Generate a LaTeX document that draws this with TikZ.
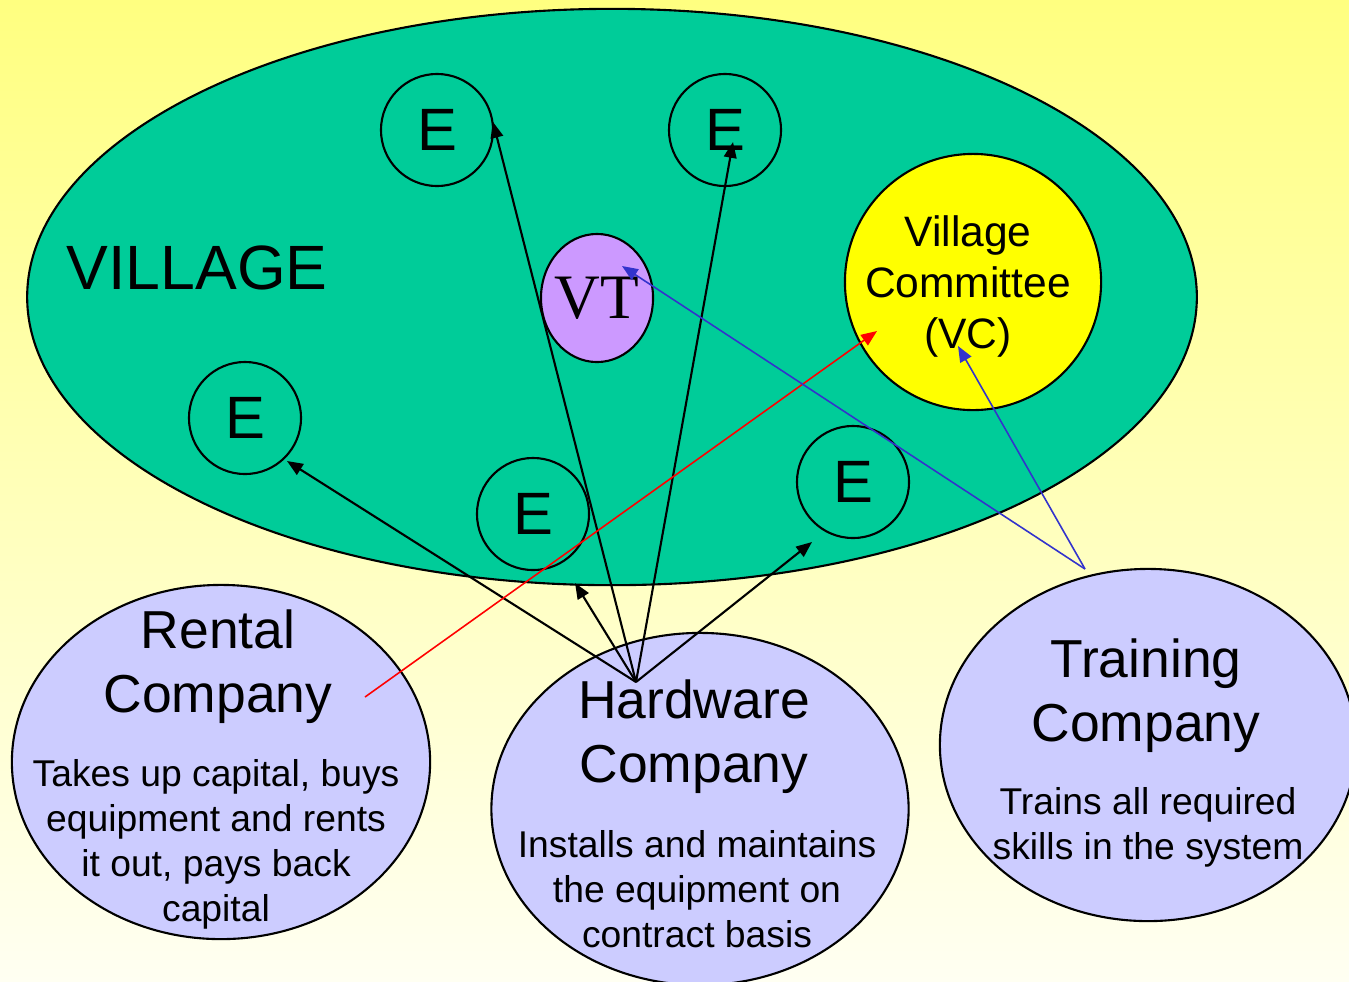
\documentclass[tikz,border=0pt]{standalone}
\usepackage{fontspec}
\setmainfont{Liberation Sans}
\newfontfamily\vtfont{Liberation Serif}
\usetikzlibrary{shapes.geometric,arrows.meta}
\definecolor{bgtop}{HTML}{FFFF80}
\definecolor{bgbot}{HTML}{FFFFF2}
\definecolor{villagegreen}{HTML}{00CC99}
\definecolor{vtpurple}{HTML}{CC99FF}
\definecolor{vcyellow}{HTML}{FFFF00}
\definecolor{companyblue}{HTML}{CCCCFF}
\definecolor{arrowblue}{HTML}{3333CC}
\definecolor{arrowred}{HTML}{FF0000}
\tikzset{
  ebox/.style={circle,draw=black,line width=0.6pt,fill=villagegreen,minimum size=1.12cm,inner sep=0pt,font=\fontsize{17}{20}\selectfont},
  company/.style={ellipse,draw=black,line width=0.6pt,fill=companyblue,inner sep=0pt},
  titletext/.style={align=center,font=\fontsize{15.2}{18.2}\selectfont,inner sep=0pt},
  desctext/.style={align=center,font=\fontsize{10.6}{12.8}\selectfont,inner sep=0pt},
  blackarrow/.style={draw=black,line width=0.6pt,-{Triangle[length=4.5pt,width=3.6pt]}},
  redarrow/.style={draw=arrowred,line width=0.45pt,-{Triangle[length=4.5pt,width=3.6pt]}},
  bluearrow/.style={draw=arrowblue,line width=0.45pt,-{Triangle[length=4.5pt,width=3.6pt]}},
}
\begin{document}
\begin{tikzpicture}[x=0.01cm,y=-0.01cm]
\useasboundingbox (0,0) rectangle (1349,981);
\clip (0,0) rectangle (1349,981);
\shade[top color=bgtop,bottom color=bgbot] (0,0) rectangle (1349,981);

% village
\node[ellipse,draw=black,line width=0.6pt,fill=villagegreen,minimum width=11.69cm,minimum height=5.76cm,inner sep=0pt] (village) at (612,297) {};
\node[font=\fontsize{17.8}{20}\selectfont,inner sep=0pt] (villagelabel) at (197,268) {VILLAGE};

% E circles
\node[ebox] (e1) at (437,130) {E};
\node[ebox] (e2) at (725,130) {E};
\node[ebox] (e3) at (245,418) {E};
\node[ebox] (e4) at (533,514) {E};
\node[ebox] (e5) at (853,482) {E};

% VT
\node[ellipse,draw=black,line width=0.6pt,fill=vtpurple,minimum width=1.12cm,minimum height=1.28cm,inner sep=0pt] (vt) at (597,298) {};
\node[font=\vtfont\fontsize{18}{21}\selectfont,inner sep=0pt] (vtlabel) at (597,298) {VT};

% VC
\node[circle,draw=black,line width=0.6pt,fill=vcyellow,minimum size=2.56cm,inner sep=0pt] (vc) at (973,282) {};
\node[align=center,font=\fontsize{12.1}{14.5}\selectfont,inner sep=0pt] (vclabel) at (968,286) {Village\\Committee\\(VC)};

% companies
\node[company,minimum width=4.18cm,minimum height=3.54cm] (rental) at (221,762) {};
\node[company,minimum width=4.17cm,minimum height=3.52cm] (hardware) at (700,809) {};
\node[company,minimum width=4.16cm,minimum height=3.52cm] (training) at (1148,745) {};

\node[titletext] (rentaltitle) at (218,667) {Rental\\Company};
\node[desctext] (rentaldesc) at (216,844) {Takes up capital, buys\\equipment and rents\\it out, pays back\\capital};
\node[titletext] (hwtitle) at (694,737) {Hardware\\Company};
\node[desctext] (hwdesc) at (697,889) {Installs and maintains\\the equipment on\\contract basis};
\node[titletext] (trtitle) at (1146,696) {Training\\Company};
\node[desctext] (trdesc) at (1148,827) {Trains all required\\skills in the system};

% arrow end points
\coordinate (hwsrc) at (636,682);
\coordinate (tipe1) at (493,122);
\coordinate (tipe2) at (733,142);
\coordinate (tipe3) at (287,461);
\coordinate (tipe4) at (575,583);
\coordinate (tipe5) at (812,542);
\coordinate (rentalsrc) at (365,697);
\coordinate (tipvcred) at (877,331);
\coordinate (trsrc) at (1085,569);
\coordinate (tipvt) at (622,266);
\coordinate (tipvcblue) at (958,346);

\draw[blackarrow] (hwsrc) -- (tipe1);
\draw[blackarrow] (hwsrc) -- (tipe2);
\draw[blackarrow] (hwsrc) -- (tipe3);
\draw[blackarrow] (hwsrc) -- (tipe4);
\draw[blackarrow] (hwsrc) -- (tipe5);
\draw[redarrow] (rentalsrc) -- (tipvcred);
\draw[bluearrow] (trsrc) -- (tipvt);
\draw[bluearrow] (trsrc) -- (tipvcblue);
\end{tikzpicture}
\end{document}
